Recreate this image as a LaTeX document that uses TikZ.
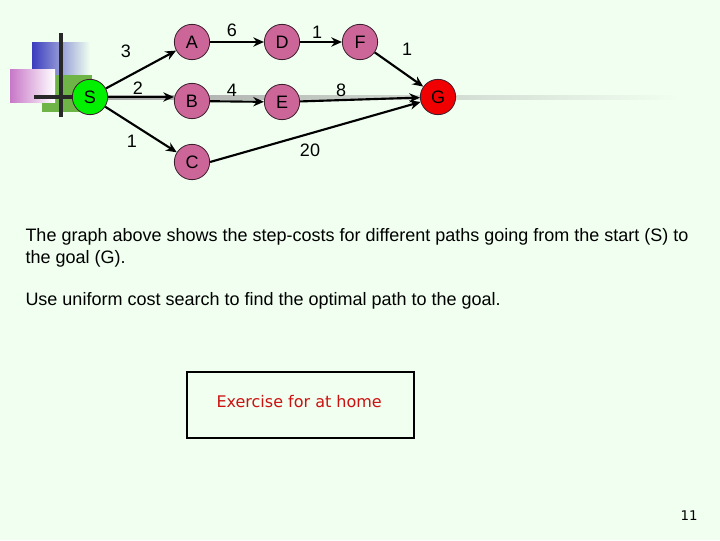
\documentclass[tikz,border=0pt]{standalone}
\usepackage{fontspec}
\setmainfont{Liberation Sans}
\newfontfamily\tahoma{DejaVu Sans}
\usetikzlibrary{arrows.meta}

\definecolor{slidebg}{RGB}{240,255,240}
\definecolor{mauve}{RGB}{204,102,153}
\definecolor{exred}{RGB}{204,17,17}

\tikzset{every picture/.style={line width=0.75pt}}
\tikzset{
  city/.style={circle, draw={rgb,255:red,60;green,30;blue,45}, line width=0.6pt, fill=mauve, minimum size=26.5pt, inner sep=0pt, font=\fontsize{13.5}{13.5}\selectfont},
  cost/.style={anchor=center, inner sep=0.75pt, font=\fontsize{13.5}{13.5}\selectfont},
  edge/.style={draw=black, line width=1.6pt, -{Stealth[length=8pt,width=7pt]}},
}

\begin{document}
\begin{tikzpicture}[x=0.75pt,y=0.75pt,yscale=-1,xscale=1]
        % background of the slide
        \fill [slidebg] (0,0) rectangle (720,540) ;
        \useasboundingbox (0,0) rectangle (720,540) ;

        % Template squares
        \shade [left color={rgb,255:red,60;green,60;blue,190}, right color=slidebg] (32,42) rectangle (90,75) ;
        \fill [color={rgb,255:red,110;green,180;blue,70}] (42,75) rectangle (92,112) ;
        \shade [left color={rgb,255:red,200;green,120;blue,200}, right color=white] (10,69) rectangle (55,102) ;
        % Template lines
        \draw [color={rgb,255:red,40;green,40;blue,40}, line width=2.5pt] (61,33) -- (61,117) ;
        \draw [color={rgb,255:red,40;green,40;blue,40}, line width=2.5pt] (34,97) -- (92,97) ;
        \shade [left color=gray!70, right color=slidebg] (100,95) rectangle (680,99) ;

        % Nodes
        \node [city, fill={rgb,255:red,0;green,240;blue,0}] (S) at (90,97) {S};
        \node [city] (A) at (192,42) {A};
        \node [city] (B) at (192,101) {B};
        \node [city] (C) at (192,162) {C};
        \node [city] (D) at (282,42) {D};
        \node [city] (E) at (282,102) {E};
        \node [city] (F) at (360,42) {F};
        \node [city, fill={rgb,255:red,240;green,0;blue,0}] (G) at (438,97) {G};

        % Edges
        \draw [edge] (S) -- (A) ;
        \draw [edge] (S.east) -- (B.west |- S.east) ;
        \draw [edge] (S) -- (C) ;
        \draw [edge] (A) -- (D) ;
        \draw [edge] (B) -- (E) ;
        \draw [edge] (D) -- (F) ;
        \draw [edge] (F) -- (G) ;
        \draw [edge] (E) -- (G) ;
        \draw [edge] (C.east) -- (G) ;

        % Costs
        \node [cost] (cSA) at (126,51) {3};
        \node [cost] (cSB) at (138,88) {2};
        \node [cost] (cSC) at (132,141) {1};
        \node [cost] (cAD) at (232,30) {6};
        \node [cost] (cBE) at (232,90) {4};
        \node [cost] (cDF) at (317,32) {1};
        \node [cost] (cEG) at (341,90) {8};
        \node [cost] (cFG) at (407,49) {1};
        \node [cost] (cCG) at (310,150) {20};

        % Text Node
        \node [anchor=west, inner sep=0pt, font=\fontsize{13.5}{13.5}\selectfont] (txt1) at (25,237) {The graph above shows the step-costs for different paths going from the start (S) to};
        % Text Node
        \node [anchor=west, inner sep=0pt, font=\fontsize{13.5}{13.5}\selectfont] (txt2) at (25,259) {the goal (G).};
        % Text Node
        \node [anchor=west, inner sep=0pt, font=\fontsize{13.5}{13.5}\selectfont] (txt3) at (25,301) {Use uniform cost search to find the optimal path to the goal.};

        % Exercise box
        \node [draw, line width=0.9pt, minimum width=227*0.75pt, minimum height=66*0.75pt, inner sep=0pt] (box) at (300.5,405) {};
        \node [anchor=west, inner sep=0pt, text=exred, font=\tahoma\fontsize{12}{12}\selectfont] (ex) at (216,402) {Exercise for at home};

        % Page number
        \node [inner sep=0pt, font=\tahoma\fontsize{10}{10}\selectfont] (page) at (689,516) {11};
\end{tikzpicture}
\end{document}
